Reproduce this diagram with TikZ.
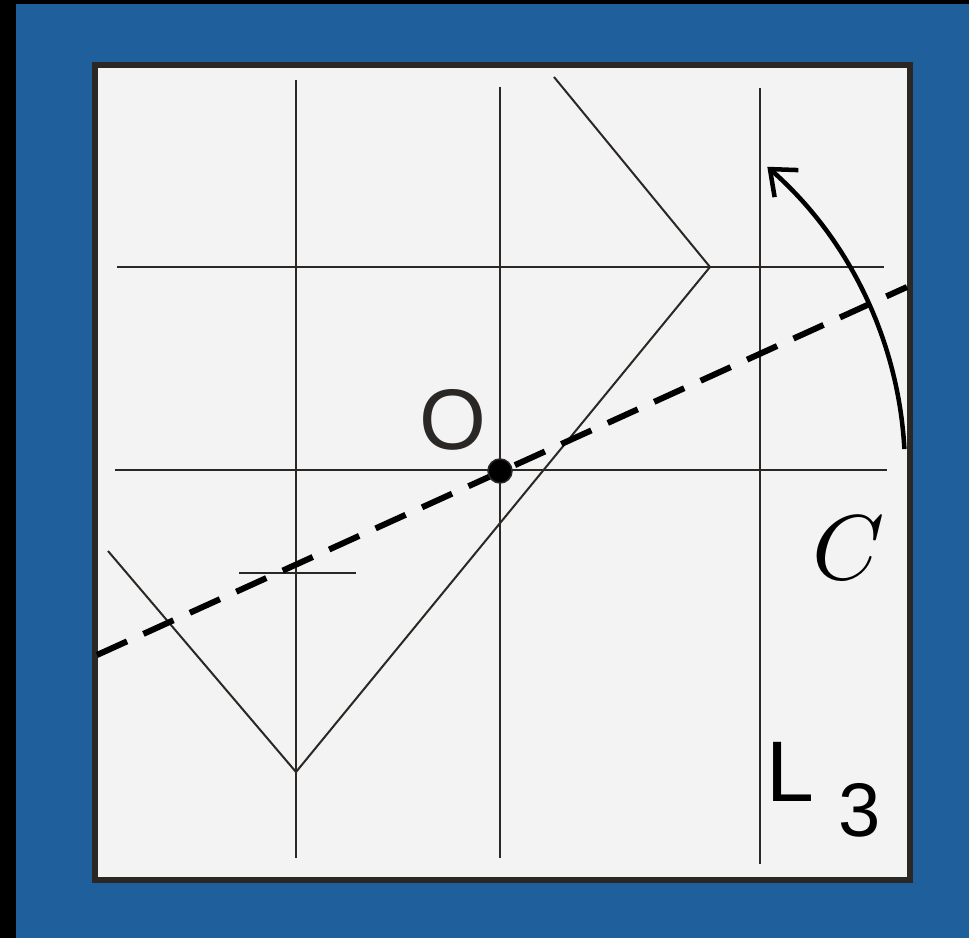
\documentclass[tikz,border=0pt]{standalone}
\usepackage{fontspec}
\newfontfamily\labfont{Liberation Sans}
\newfontfamily\lmmathfont{Latin Modern Math}
\usetikzlibrary{arrows.meta}
\definecolor{bgblue}{RGB}{31,96,156}
\definecolor{paper}{RGB}{243,243,243}
\definecolor{ink}{RGB}{43,39,36}
\tikzset{
  thinline/.style={draw=ink,line width=2pt},
  frameline/.style={draw=ink,line width=6pt,fill=paper},
  axisdash/.style={draw=black,line width=6pt,dash pattern=on 33pt off 18pt},
  rotarrow/.style={draw=black,line width=4.5pt,-{Straight Barb[length=22pt,width=36pt,line width=4.5pt]}},
  biglabel/.style={inner sep=0pt,text=ink,font=\labfont\fontsize{86}{90}\selectfont},
}
\begin{document}
\begin{tikzpicture}[x=1pt,y=1pt]
\useasboundingbox (0,0) rectangle (969,938);
\fill[bgblue] (0,0) rectangle (969,938);
\fill[black] (0,0) rectangle (16,938);
\fill[black] (0,934) rectangle (969,938);
% frame
\draw[frameline] (95,58) rectangle (910,873);
% coordinates
\coordinate (v1t) at (296,858); \coordinate (v1b) at (296,80);
\coordinate (v2t) at (500,851); \coordinate (v2b) at (500,80);
\coordinate (v3t) at (760,850); \coordinate (v3b) at (760,74);
\coordinate (h1l) at (117,671); \coordinate (h1r) at (884,671);
\coordinate (h2l) at (115,468); \coordinate (h2r) at (887,468);
\coordinate (sl) at (239,365); \coordinate (sr) at (356,365);
\coordinate (pa) at (108,387); \coordinate (pb) at (296,166);
\coordinate (pc) at (710,671); \coordinate (pd) at (554,861);
\coordinate (dl) at (97,283); \coordinate (dr) at (907,651);
\coordinate (O) at (500,467);
% grid lines
\draw[thinline] (v1t) -- (v1b);
\draw[thinline] (v2t) -- (v2b);
\draw[thinline] (v3t) -- (v3b);
\draw[thinline] (h1l) -- (h1r);
\draw[thinline] (h2l) -- (h2r);
\draw[thinline] (sl) -- (sr);
\draw[thinline,line join=miter] (pa) -- (pb) -- (pc) -- (pd);
% dashed axis
\draw[axisdash] (dl) -- (dr);
% rotation arc
\draw[rotarrow] (O) ++(3.1:405) arc[start angle=3.1,end angle=48.7,radius=405];
% point O
\fill[black] (O) circle[radius=12];
\draw[ink,line width=1.5pt] (O) circle[radius=12];
% labels
\node[biglabel] (lO) at (453,518) {O};
\node[inner sep=0pt,text=black,font=\lmmathfont\fontsize{92}{96}\selectfont] (lC) at (845,390) {\symbol{"1D436}};
\node[biglabel,text=black] (lL) at (790,166) {L};
\node[inner sep=0pt,text=black,font=\labfont\fontsize{76}{80}\selectfont] (l3) at (860,128) {3};
\end{tikzpicture}
\end{document}
